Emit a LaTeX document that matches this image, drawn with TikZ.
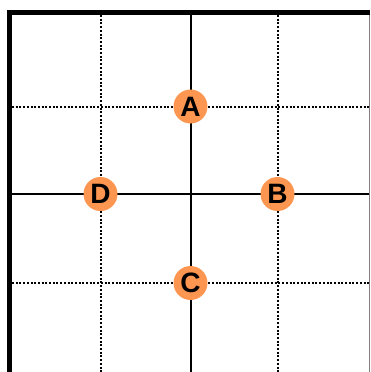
\documentclass[tikz,border=0pt]{standalone}
\usepackage{fontspec}
\setmainfont{Liberation Sans}
\definecolor{dotorange}{RGB}{252,150,80}
\begin{document}
\begin{tikzpicture}[x=1pt,y=-1pt,
  border/.style={line width=5pt,line join=miter,line cap=butt},
  solidgrid/.style={line width=2pt},
  dotgrid/.style={line width=2pt,dash pattern=on 2pt off 1.7pt},
  pt/.style={circle,fill=dotorange,minimum size=34pt,inner sep=0pt,font=\fontsize{28}{28}\selectfont\bfseries}]
\useasboundingbox (0,0) rectangle (370,372);
% grid
\draw[dotgrid] (100.5,15) -- (100.5,372);
\draw[dotgrid] (277.5,15) -- (277.5,372);
\draw[dotgrid] (12,106.5) -- (370,106.5);
\draw[dotgrid] (12,283) -- (370,283);
\draw[solidgrid] (190.5,15) -- (190.5,372);
\draw[solidgrid] (12,194) -- (370,194);
% right edge
\draw[gray,line width=0.8pt] (369.5,15) -- (369.5,372);
% border
\draw[border] (9.5,372) -- (9.5,12.5) -- (370,12.5);
% points
\node[pt] (A) at (190.5,106.5) {A};
\node[pt] (B) at (277.5,194) {B};
\node[pt] (C) at (190.5,283) {C};
\node[pt] (D) at (100.5,194) {D};
\end{tikzpicture}
\end{document}
